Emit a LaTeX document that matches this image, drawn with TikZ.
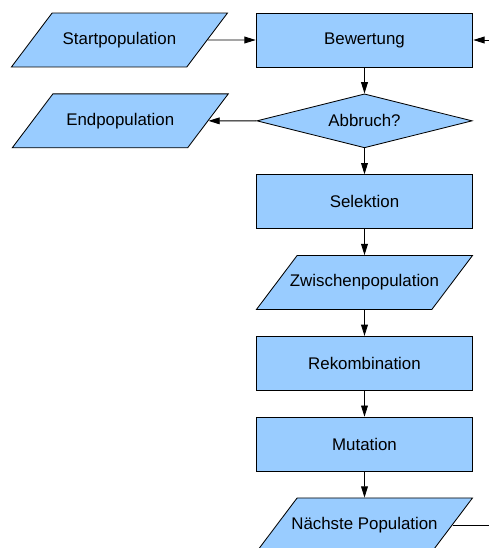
\documentclass[tikz,border=0pt]{standalone}
\usepackage{fontspec}
\setmainfont{Liberation Sans}
\usetikzlibrary{shapes.geometric,arrows.meta,positioning}
\definecolor{boxblue}{RGB}{153,204,255}

\begin{document}
\begin{tikzpicture}[node distance = 0.65cm, >={Triangle[length=2.8mm,width=1.7mm]},
  every node/.style={font=\fontsize{12}{14}\selectfont},
  process/.style={rectangle, draw, fill=boxblue, line width=0.6pt,
    minimum width=5.42cm, minimum height=1.35cm},
  data/.style={trapezium, trapezium left angle=53, trapezium right angle=127,
    trapezium stretches body, draw, fill=boxblue, line width=0.6pt,
    text height=9pt, text depth=3pt, inner ysep=0.463cm, inner xsep=-0.6cm,
    minimum width=5.4cm},
  decision/.style={diamond, aspect=4, draw, fill=boxblue, line width=0.6pt, inner sep=0pt,
    minimum width=5.38cm, minimum height=1.35cm}]
\clip (-9.1125,1) rectangle (3.1125,-12.7);
\node [process] (bewertung) {Bewertung};
\node [decision] (abbruch) [below = of bewertung] {Abbruch?};
\node [process] (selektion) [below = of abbruch] {Selektion};
\node [data] (zwischen) [below = of selektion] {Zwischenpopulation};
\node [process] (rekomb) [below = of zwischen] {Rekombination};
\node [process] (mutation) [below = of rekomb] {Mutation};
\node [data] (naechste) [below = of mutation] {Nächste Population};
\node [data] (start) [left = 1.2cm of bewertung] {Startpopulation};
\node [data] (ende) [left = 1.2cm of abbruch] {Endpopulation};
% Rueckfuehrung, am Bildrand abgeschnitten
\coordinate (randunten) at (naechste.east -| 3.1125,0);
\coordinate (randoben) at (bewertung.east -| 3.1125,0);
\path[->, line width=0.6pt]
(start) edge (bewertung)
(bewertung) edge (abbruch)
(abbruch) edge (ende)
          edge (selektion)
(selektion) edge (zwischen)
(zwischen) edge (rekomb)
(rekomb) edge (mutation)
(mutation) edge (naechste)
(randoben) edge (bewertung);
\draw[line width=0.6pt] (naechste.east) -- (randunten);
\end{tikzpicture}
\end{document}
